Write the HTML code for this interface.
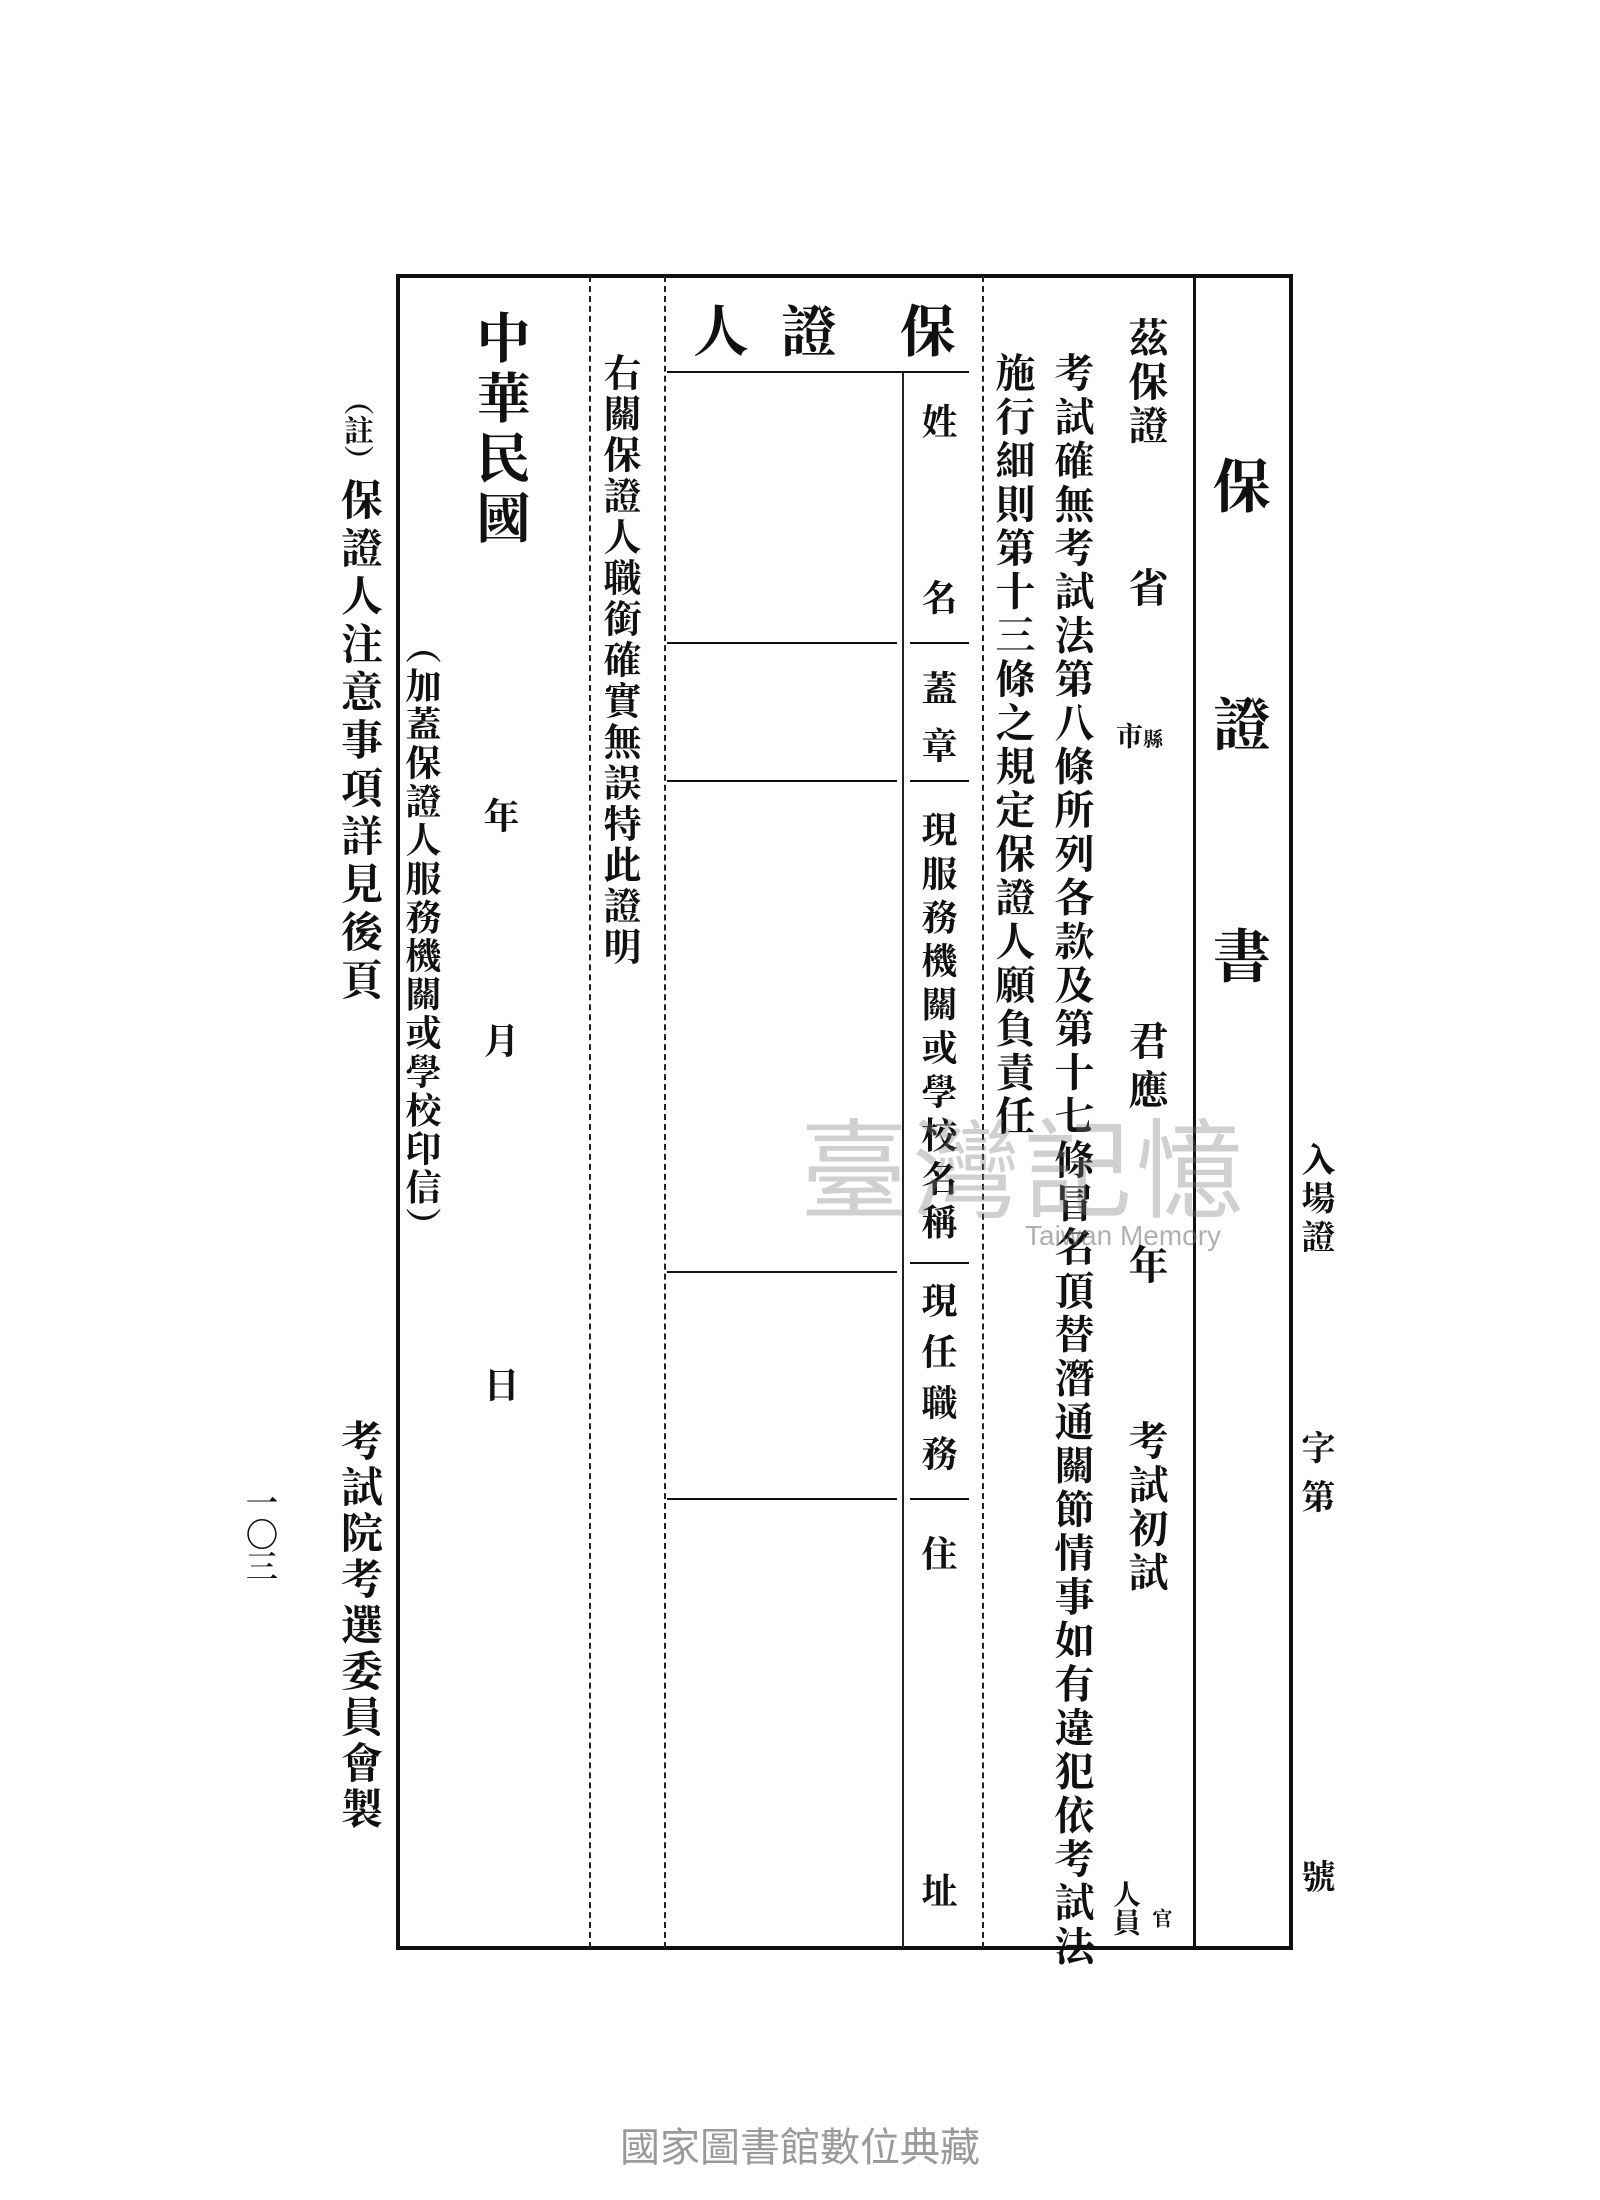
<!DOCTYPE html>
<html><head><meta charset="utf-8"><style>
body{margin:0;background:#fff;}
#p{position:relative;width:1600px;height:2200px;overflow:hidden;background:#fff;font-family:"Liberation Serif","Noto Serif CJK SC","Noto Sans CJK TC",serif;color:#111;}
.a{position:absolute;}
.v{position:absolute;writing-mode:vertical-rl;line-height:1;white-space:nowrap;font-weight:bold;}
.vl{position:absolute;width:0;}
.hl{position:absolute;height:0;}
</style></head><body><div id="p">
<!-- frame -->
<div class="a" style="left:396px;top:274px;width:889px;height:1668px;border:4px solid #111;"></div>
<div class="vl" style="left:1193px;top:276px;height:1672px;border-left:3px solid #111;"></div>
<div class="vl" style="left:982px;top:276px;height:1672px;border-left:2px dashed #222;"></div>
<div class="vl" style="left:902px;top:372px;height:1576px;border-left:2px solid #222;"></div>
<div class="vl" style="left:664px;top:276px;height:1672px;border-left:2px dashed #222;"></div>
<div class="vl" style="left:589px;top:276px;height:1672px;border-left:2px dashed #222;"></div>
<div class="hl" style="left:667px;top:371px;width:302px;border-top:2px solid #111;"></div>
<div class="hl" style="left:667px;top:642px;width:230px;border-top:2px solid #111;"></div>
<div class="hl" style="left:667px;top:780px;width:230px;border-top:2px solid #111;"></div>
<div class="hl" style="left:667px;top:1271px;width:230px;border-top:2px solid #111;"></div>
<div class="hl" style="left:667px;top:1498px;width:230px;border-top:2px solid #111;"></div>
<div class="hl" style="left:910px;top:642px;width:59px;border-top:2px solid #111;"></div>
<div class="hl" style="left:910px;top:780px;width:59px;border-top:2px solid #111;"></div>
<div class="hl" style="left:910px;top:1262px;width:59px;border-top:2px solid #111;"></div>
<div class="hl" style="left:910px;top:1498px;width:59px;border-top:2px solid #111;"></div>

<!-- title -->
<div class="v" style="left:1207px;top:456px;font-size:58px;">保</div>
<div class="v" style="left:1207px;top:694px;font-size:58px;">證</div>
<div class="v" style="left:1207px;top:926px;font-size:58px;">書</div>

<!-- header 保證人 -->
<div class="v" style="left:895px;top:302px;font-size:56px;">保</div>
<div class="v" style="left:776px;top:302px;font-size:56px;">證</div>
<div class="v" style="left:688px;top:302px;font-size:56px;">人</div>

<!-- first column -->
<div class="v" style="left:1125px;top:317px;font-size:40px;letter-spacing:3.7px;">茲保證</div>
<div class="v" style="left:1125px;top:567px;font-size:40px;">省</div>
<div class="a" style="left:1116px;top:724px;font-size:27px;line-height:1;font-weight:bold;">市<span style="font-size:20px">縣</span></div>
<div class="v" style="left:1125px;top:1020px;font-size:40px;letter-spacing:9px;">君應</div>
<div class="v" style="left:1125px;top:1244px;font-size:40px;">年</div>
<div class="v" style="left:1125px;top:1420px;font-size:40px;letter-spacing:3.7px;">考試初試</div>
<div class="v" style="left:1110px;top:1880px;font-size:28px;">人員</div>
<div class="v" style="left:1150px;top:1908px;font-size:20px;">官</div>

<div class="v" style="left:1051px;top:352px;font-size:40px;letter-spacing:3.7px;">考試確無考試法第八條所列各款及第十七條冒名頂替潛通關節情事如有違犯依考試法</div>
<div class="v" style="left:992px;top:352px;font-size:40px;letter-spacing:3.7px;">施行細則第十三條之規定保證人願負責任</div>

<!-- labels -->
<div class="v" style="left:919px;top:403px;font-size:36px;">姓</div>
<div class="v" style="left:919px;top:579px;font-size:36px;">名</div>
<div class="v" style="left:919px;top:670px;font-size:36px;">蓋</div>
<div class="v" style="left:919px;top:727px;font-size:36px;">章</div>
<div class="v" style="left:919px;top:811px;font-size:36px;letter-spacing:7.6px;">現服務機關或學校名稱</div>
<div class="v" style="left:919px;top:1282px;font-size:36px;letter-spacing:15px;">現任職務</div>
<div class="v" style="left:919px;top:1535px;font-size:36px;">住</div>
<div class="v" style="left:919px;top:1872px;font-size:36px;">址</div>

<!-- certification -->
<div class="v" style="left:599px;top:353px;font-size:38px;letter-spacing:3px;">右關保證人職銜確實無誤特此證明</div>
<div class="v" style="left:472px;top:310px;font-size:54px;letter-spacing:6px;">中華民國</div>
<div class="v" style="left:481px;top:797px;font-size:36px;">年</div>
<div class="v" style="left:481px;top:1022px;font-size:36px;">月</div>
<div class="v" style="left:481px;top:1366px;font-size:36px;">日</div>
<div class="v" style="left:403px;top:628px;font-size:36px;letter-spacing:2.6px;">（加蓋保證人服務機關或學校印信）</div>

<!-- outside left -->
<div class="v" style="left:340px;top:385px;font-size:30px;">（註）</div>
<div class="v" style="left:337px;top:478px;font-size:42px;letter-spacing:6px;">保證人注意事項詳見後頁</div>
<div class="v" style="left:337px;top:1419px;font-size:42px;letter-spacing:4px;">考試院考選委員會製</div>
<div class="v" style="left:244px;top:1486px;font-size:32px;">一〇三</div>

<!-- outside right -->
<div class="v" style="left:1297px;top:1142px;font-size:34px;letter-spacing:4.6px;">入場證</div>
<div class="v" style="left:1297px;top:1430px;font-size:34px;letter-spacing:15px;">字第</div>
<div class="v" style="left:1297px;top:1859px;font-size:34px;">號</div>

<!-- watermark -->
<div class="a" style="left:800px;top:1118px;font-size:108px;line-height:1;color:rgba(120,120,120,0.35);font-family:'Liberation Sans','Noto Sans CJK TC',sans-serif;letter-spacing:4px;">臺灣記憶</div>
<div class="a" style="left:1025px;top:1222px;font-size:28px;line-height:1;color:rgba(110,110,110,0.55);font-family:'Liberation Sans',sans-serif;">Taiwan Memory</div>

<!-- footer -->
<div class="a" style="left:0;width:1600px;top:2128px;text-align:center;font-size:40px;line-height:1;color:#9a9a9a;font-family:'Liberation Sans','Noto Sans CJK TC',sans-serif;">國家圖書館數位典藏</div>
</div></body></html>
